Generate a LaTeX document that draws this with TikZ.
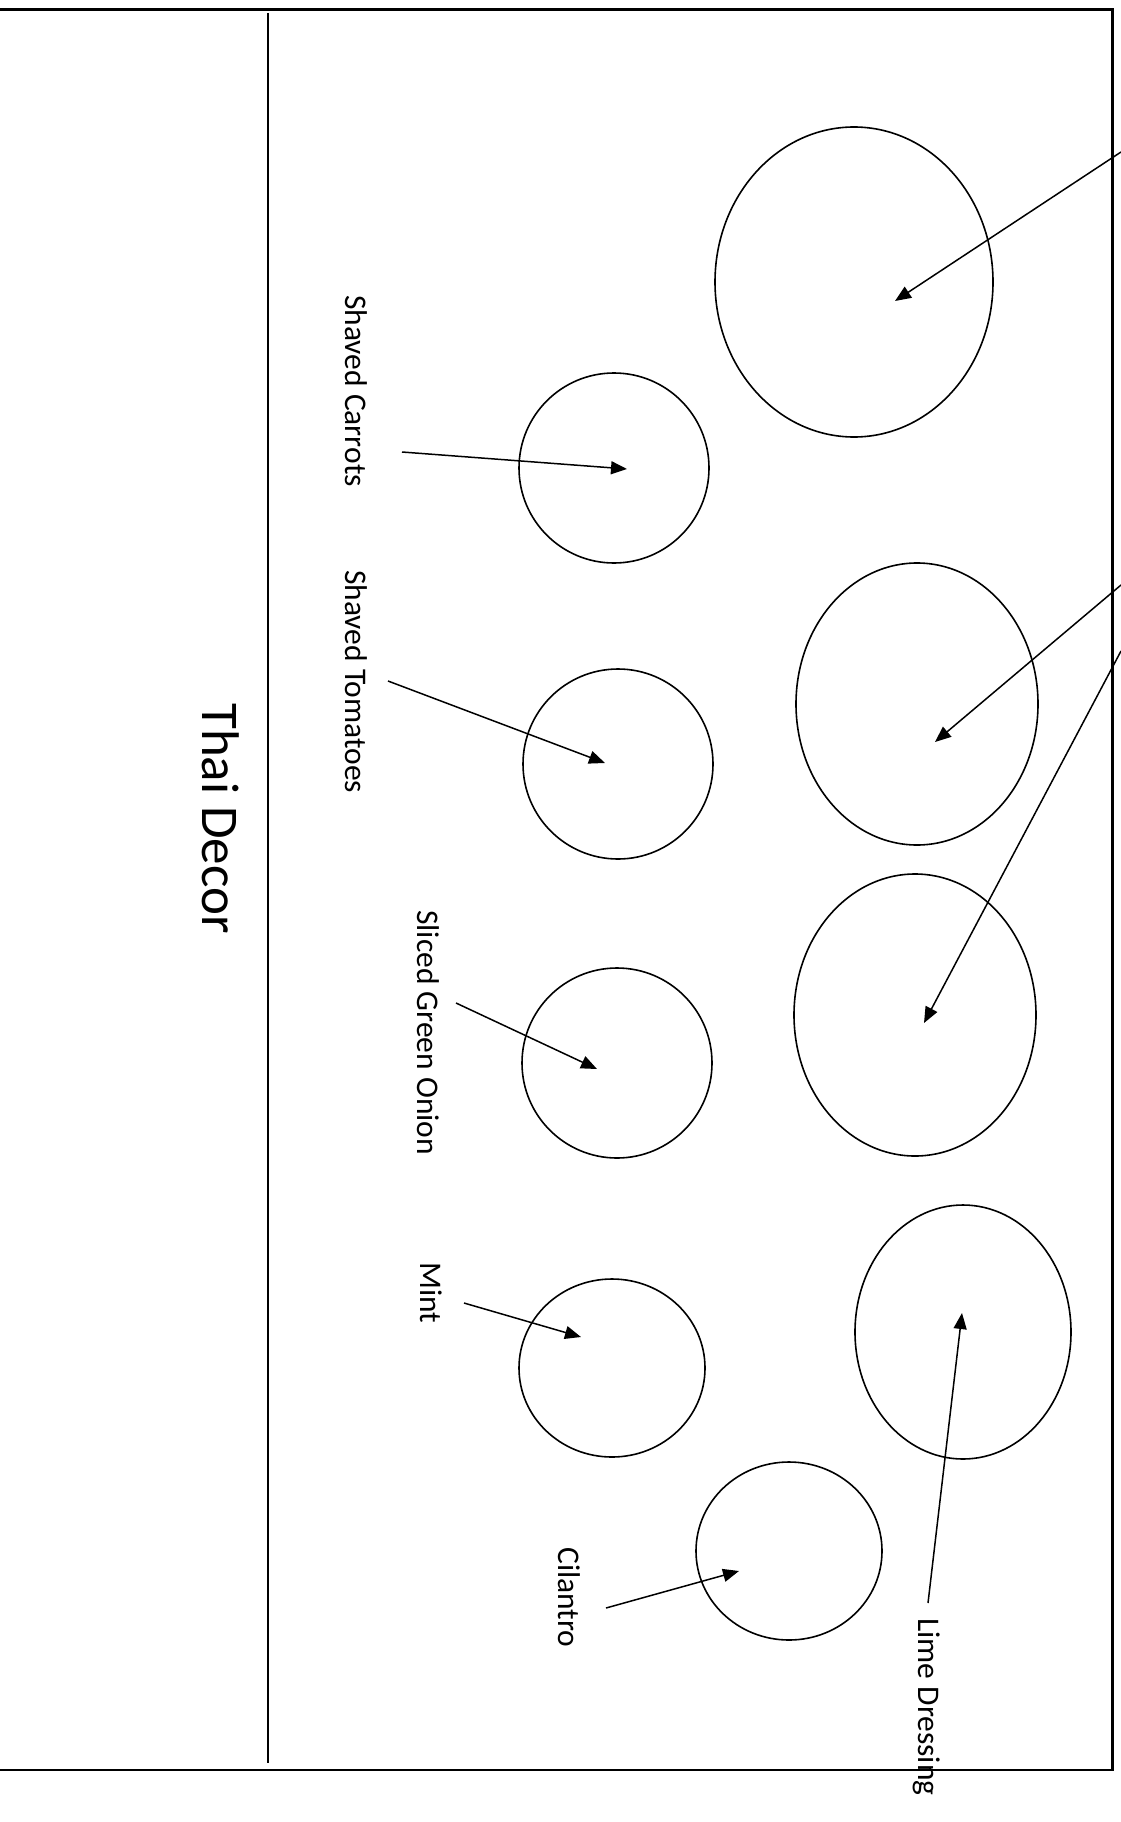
\documentclass[tikz,border=0pt]{standalone}
\usepackage{fontspec}
\setmainfont{Carlito}
\usetikzlibrary{arrows.meta,shapes.geometric}
\tikzset{
  plate/.style={draw, ellipse, line width=1.6pt, inner sep=0pt},
  ptr/.style={line width=1.5pt, -{Triangle[length=16pt,width=13pt]}},
  lbl/.style={rotate=-90, anchor=base west, inner sep=0pt, font=\fontsize{31.5}{36}\selectfont},
  ttl/.style={rotate=-90, anchor=base west, inner sep=0pt, font=\fontsize{53}{60}\selectfont}
}
\begin{document}
\begin{tikzpicture}[x=1pt,y=-1pt]
\useasboundingbox (0,0) rectangle (1121,1822);
\clip (0,0) rectangle (1121,1822);
% frame
\draw[line width=2.2pt] (-10,9.5) -- (1112.5,9.5) -- (1112.5,1770) -- (-10,1770);
\draw[line width=1.6pt] (268,13) -- (268,1763);
\node[ttl] (title) at (202,703) {Thai Decor};
% plates
\node[plate, minimum width=278pt, minimum height=310pt] (e1) at (854,282) {};
\node[plate, minimum width=190pt, minimum height=190pt] (carrot) at (614,468) {};
\node[plate, minimum width=190pt, minimum height=190pt] (tomato) at (618,764) {};
\node[plate, minimum width=242pt, minimum height=282pt] (e4) at (917,704) {};
\node[plate, minimum width=242pt, minimum height=282pt] (e5) at (915,1015) {};
\node[plate, minimum width=190pt, minimum height=190pt] (onion) at (617,1063) {};
\node[plate, minimum width=186pt, minimum height=178pt] (mint) at (612,1368) {};
\node[plate, minimum width=216pt, minimum height=254pt] (lime) at (963,1332) {};
\node[plate, minimum width=186pt, minimum height=178pt] (cilantro) at (789,1551) {};
% labels
\node[lbl] (lcarrot) at (345,295) {Shaved Carrots};
\node[lbl] (ltomato) at (345,570) {Shaved Tomatoes};
\node[lbl] (lonion) at (417,910) {Sliced Green Onion};
\node[lbl] (lmint) at (420,1262) {Mint};
\node[lbl] (lcilantro) at (558,1547) {Cilantro};
\node[lbl] (llime) at (918,1618) {Lime Dressing};
% arrow ends
\coordinate (s1) at (1121,152);  \coordinate (t1) at (895,301);
\coordinate (s2) at (1121,585);  \coordinate (t2) at (935,742);
\coordinate (s3) at (1121,651);  \coordinate (t3) at (924,1023);
\coordinate (sc) at (402,452);   \coordinate (tc) at (627,469);
\coordinate (st) at (388,681);   \coordinate (tt) at (605,763);
\coordinate (so) at (456,1003);  \coordinate (to) at (597,1069);
\coordinate (sm) at (464,1303);  \coordinate (tm) at (581,1337);
\coordinate (sl) at (606,1608);  \coordinate (tl) at (739,1571);
\coordinate (sd) at (928,1603);  \coordinate (td) at (962,1313);
\draw[ptr] (s1) -- (t1);
\draw[ptr] (s2) -- (t2);
\draw[ptr] (s3) -- (t3);
\draw[ptr] (sc) -- (tc);
\draw[ptr] (st) -- (tt);
\draw[ptr] (so) -- (to);
\draw[ptr] (sm) -- (tm);
\draw[ptr] (sl) -- (tl);
\draw[ptr] (sd) -- (td);
\end{tikzpicture}
\end{document}
